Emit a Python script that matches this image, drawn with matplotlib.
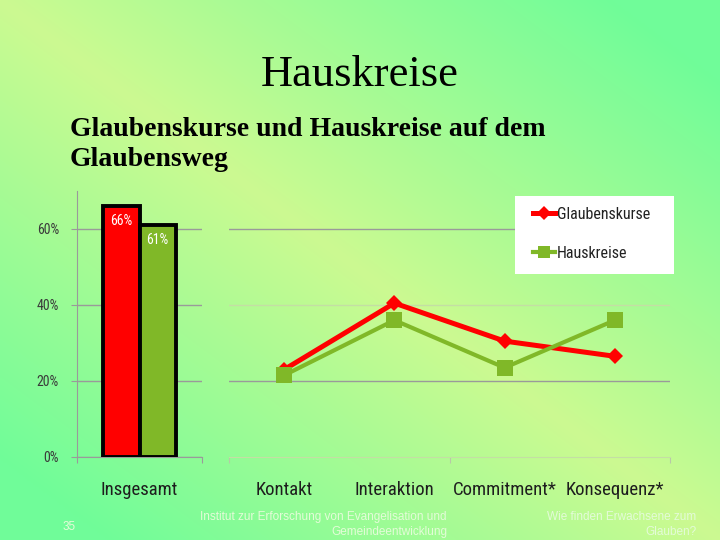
import numpy as np
import matplotlib
matplotlib.use("Agg")
import matplotlib.pyplot as plt
from matplotlib.patches import Rectangle
from matplotlib.lines import Line2D

# ---------------- data ----------------
title = "Hauskreise"
subtitle_lines = ["Glaubenskurse und Hauskreise auf dem", "Glaubensweg"]
series_names = ["Glaubenskurse", "Hauskreise"]
bar_category = ["Insgesamt"]
bar_glaubenskurse = [66]
bar_hauskreise = [61]
line_categories = ["Kontakt", "Interaktion", "Commitment*", "Konsequenz*"]
line_glaubenskurse = [23, 40.5, 30.5, 26.5]
line_hauskreise = [21.5, 36, 23.5, 36]
yticks = [0, 20, 40, 60]
ytick_labels = ["0%", "20%", "40%", "60%"]
footer_page = "35"
footer_mid = ["Institut zur Erforschung von Evangelisation und", "Gemeindeentwicklung"]
footer_right = ["Wie finden Erwachsene zum", "Glauben?"]

RED = "#ff0000"
GREEN = "#80b828"
GRID = "#9a9a9a"
FAINT = "#c4dea4"
COND = ["Roboto Condensed", "Roboto", "DejaVu Sans"]

W, H = 720, 540
fig = plt.figure(figsize=(7.2, 5.4), dpi=100)

# ---------------- background gradient ----------------
bg = fig.add_axes([0, 0, 1, 1], zorder=-10)
u = np.linspace(0, 1, 360)[None, :]
v = np.linspace(0, 1, 270)[:, None]
t = np.clip(np.abs(u - v) / 0.85, 0, 1)
yellow = np.array([0.80, 0.98, 0.57])
green = np.array([0.44, 0.99, 0.60])
img = yellow[None, None, :] * (1 - t[..., None]) + green[None, None, :] * t[..., None]
bg.imshow(img, aspect="auto", extent=[0, 1, 1, 0], interpolation="bilinear")
bg.set_xlim(0, 1); bg.set_ylim(1, 0)
bg.axis("off")

def fx(px):
    return px / W

def fy(py):
    return 1 - py / H

# ---------------- titles ----------------
fig.text(0.5, fy(86), title, ha="center", va="baseline",
         family="Liberation Serif", fontsize=32, color="black")
fig.text(fx(70), fy(136), subtitle_lines[0], ha="left", va="baseline",
         family="Liberation Serif", fontweight="bold", fontsize=20, color="black")
fig.text(fx(70), fy(166), subtitle_lines[1], ha="left", va="baseline",
         family="Liberation Serif", fontweight="bold", fontsize=20, color="black")

# ---------------- axes geometry ----------------
bottom = fy(457)
height = (457 - 191) / H
axL = fig.add_axes([fx(77), bottom, fx(125), height])
axR = fig.add_axes([fx(229), bottom, fx(441), height])
for ax in (axL, axR):
    ax.set_facecolor("none")
    ax.set_ylim(0, 70)
    for s in ("top", "right"):
        ax.spines[s].set_visible(False)

# ---------------- left: bar chart ----------------
bw = 0.29
xb = np.arange(len(bar_category))
b1 = axL.bar(xb - bw / 2, bar_glaubenskurse, bw, color=RED, edgecolor="black", linewidth=2.8, zorder=3)
b2 = axL.bar(xb + bw / 2, bar_hauskreise, bw, color=GREEN, edgecolor="black", linewidth=2.8, zorder=3)
for bars in (b1, b2):
    for rect in bars:
        axL.annotate(f"{rect.get_height():.0f}%",
                     (rect.get_x() + rect.get_width() / 2, rect.get_height()),
                     xytext=(0, -11), textcoords="offset points",
                     ha="center", va="center", color="white", fontsize=10,
                     family=COND, zorder=4)
axL.set_xlim(-0.5, 0.5)
axL.set_yticks(yticks)
axL.set_yticklabels(ytick_labels, family=COND, fontsize=10, color="#3a3a3a")
axL.tick_params(axis="y", length=4, color=GRID, pad=9)
axL.grid(axis="y", color=GRID, linewidth=1, zorder=0)
axL.spines["left"].set_color(GRID)
axL.spines["bottom"].set_color(GRID)
axL.set_xticks([-0.5, 0.5])
axL.set_xticklabels([])
axL.tick_params(axis="x", which="major", length=4, color=GRID)
axL.set_xticks(xb, minor=True)
axL.set_xticklabels(bar_category, minor=True, family=COND, fontsize=13.5, color="#1e1e1e")
axL.tick_params(axis="x", which="minor", length=0, pad=17)

# ---------------- right: line chart ----------------
xl = np.arange(len(line_categories))
axR.set_xlim(-0.5, len(line_categories) - 0.5)
grid_colors = {0: FAINT, 20: GRID, 40: FAINT, 60: GRID}
for yv in yticks[1:]:
    axR.axhline(yv, color=grid_colors[yv], linewidth=1, zorder=0)
axR.spines["left"].set_visible(False)
axR.spines["bottom"].set_color(FAINT)
axR.set_yticks([])
axR.plot(xl, line_glaubenskurse, color=RED, linewidth=3.6, marker="D", markersize=8,
         markeredgewidth=0, zorder=3)
axR.plot(xl, line_hauskreise, color=GREEN, linewidth=3.0, marker="s", markersize=11,
         markeredgewidth=0, zorder=4)
axR.set_xticks([-0.5, 1.5, len(line_categories) - 0.5])
axR.set_xticklabels([])
axR.tick_params(axis="x", which="major", length=4, color="#b8c8a8")
axR.set_xticks(xl, minor=True)
axR.set_xticklabels(line_categories, minor=True, family=COND, fontsize=13.5, color="#1e1e1e")
axR.tick_params(axis="x", which="minor", length=0, pad=17)

# ---------------- legend ----------------
fig.patches.append(Rectangle((fx(515), fy(274)), fx(159), 78 / H, transform=fig.transFigure,
                             facecolor="white", edgecolor="none", zorder=5))
handles = [Line2D([], [], color=RED, linewidth=3.6, marker="D", markersize=7, markeredgewidth=0),
           Line2D([], [], color=GREEN, linewidth=3.0, marker="s", markersize=9, markeredgewidth=0)]
leg = fig.legend(handles, series_names, loc="center left", bbox_to_anchor=(fx(533), fy(234)),
                 frameon=False, borderpad=0, borderaxespad=0, handlelength=1.4,
                 handletextpad=0.1, labelspacing=1.5, prop={"family": COND, "size": 11.5})
for txt in leg.get_texts():
    txt.set_color("#222222")
leg.set_zorder(6)

# ---------------- footer ----------------
fc = "#e4fbd8"
fig.text(fx(69), fy(527), footer_page, ha="center", va="center", fontsize=8.5,
         family="Liberation Sans", color=fc)
fig.text(fx(447), fy(517), footer_mid[0], ha="right", va="center", fontsize=8.5,
         family="Liberation Sans", color=fc)
fig.text(fx(447), fy(532), footer_mid[1], ha="right", va="center", fontsize=8.5,
         family="Liberation Sans", color=fc)
fig.text(fx(696), fy(517), footer_right[0], ha="right", va="center", fontsize=8.5,
         family="Liberation Sans", color=fc)
fig.text(fx(696), fy(532), footer_right[1], ha="right", va="center", fontsize=8.5,
         family="Liberation Sans", color=fc)

fig.savefig("out.png", dpi=100)
